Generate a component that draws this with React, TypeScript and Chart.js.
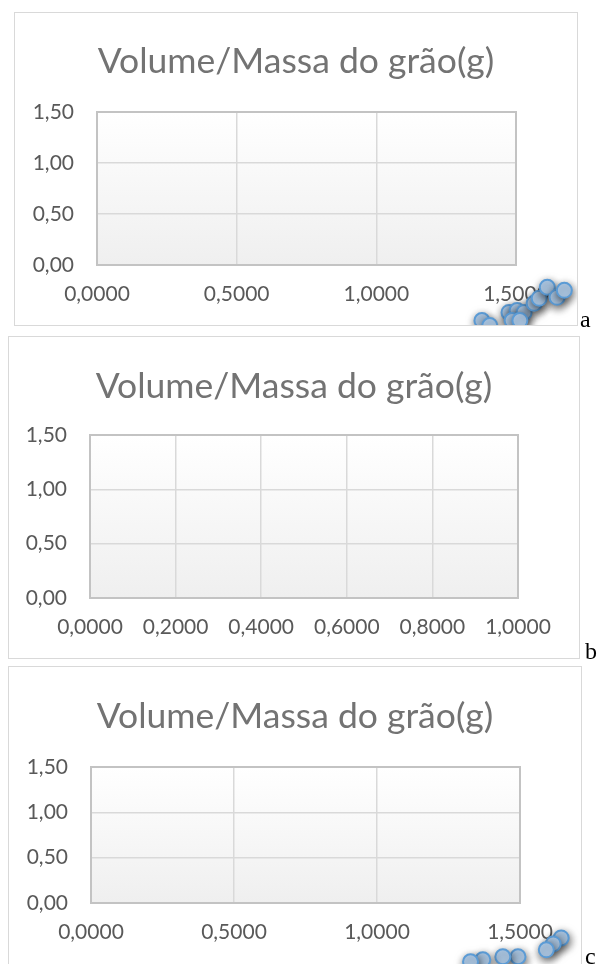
import React, { useEffect, useRef } from 'react';
import { Chart, registerables } from 'chart.js';

Chart.register(...registerables);

// ---------- data ----------
const TITLE = 'Volume/Massa do grão(g)';
const yTickValues = [0, 0.5, 1.0, 1.5];
const xTickValuesA = [0, 0.5, 1.0, 1.5];
const xTickValuesB = [0, 0.2, 0.4, 0.6, 0.8, 1.0];
const xTickValuesC = [0, 0.5, 1.0, 1.5];

// panel a: points rendered below the axis (outside the plot)
const xA = [1.378, 1.406, 1.475, 1.504, 1.529, 1.486, 1.514, 1.565, 1.583, 1.612, 1.647, 1.673];
const yA = [-0.545, -0.594, -0.465, -0.446, -0.465, -0.545, -0.545, -0.376, -0.327, -0.218, -0.317, -0.248];
// panel b: no visible points
const xB: number[] = [];
const yB: number[] = [];
// panel c
const xC = [1.644, 1.616, 1.592, 1.493, 1.44, 1.37, 1.327];
const yC = [-0.385, -0.451, -0.516, -0.593, -0.593, -0.626, -0.648];

// ---------- layout ----------
type Layout = {
  frame: { left: number; top: number; width: number; height: number };
  plot: { left: number; top: number; right: number; bottom: number };
  titleY: number;
  letter: string;
  letterPos: { left: number; top: number };
  bottomBorder: boolean;
};

const layouts: Layout[] = [
  {
    frame: { left: 14, top: 12, width: 564, height: 314 },
    plot: { left: 83, top: 100, right: 502, bottom: 253 },
    titleY: 50,
    letter: 'a',
    letterPos: { left: 580, top: 307 },
    bottomBorder: true,
  },
  {
    frame: { left: 8, top: 336, width: 572, height: 323 },
    plot: { left: 82, top: 99, right: 510, bottom: 262 },
    titleY: 51,
    letter: 'b',
    letterPos: { left: 585, top: 639 },
    bottomBorder: true,
  },
  {
    frame: { left: 8, top: 666, width: 574, height: 320 },
    plot: { left: 83, top: 101, right: 512, bottom: 237 },
    titleY: 51,
    letter: 'c',
    letterPos: { left: 585, top: 944 },
    bottomBorder: false,
  },
];

const FONT = 'Lato, "Open Sans", sans-serif';
const TICK_COLOR = '#595959';
const TITLE_COLOR = '#737373';

const fmt = (v: number, d: number) => v.toFixed(d).replace('.', ',');

function Panel({ layout, xTicks, xs, ys }: { layout: Layout; xTicks: number[]; xs: number[]; ys: number[] }) {
  const ref = useRef<HTMLCanvasElement | null>(null);
  useEffect(() => {
    if (!ref.current) return;
    const { frame, plot, titleY } = layout;
    const W = frame.width;
    const H = frame.height;
    let savedArea: any = null;
    const plugin = {
      id: 'decor',
      beforeDraw(chart: any) {
        const { ctx, chartArea: a } = chart;
        ctx.save();
        const g = ctx.createLinearGradient(0, a.top, 0, a.bottom);
        g.addColorStop(0, '#ffffff');
        g.addColorStop(1, '#efefef');
        ctx.fillStyle = g;
        ctx.fillRect(a.left, a.top, a.right - a.left, a.bottom - a.top);
        ctx.restore();
      },
      beforeDatasetsDraw(chart: any) {
        const { ctx, chartArea: a } = chart;
        ctx.save();
        ctx.strokeStyle = '#c3c3c3';
        ctx.lineWidth = 2;
        ctx.strokeRect(a.left, a.top, a.right - a.left, a.bottom - a.top);
        ctx.restore();
        // let points that fall outside the plot area still be drawn (as in the original)
        savedArea = chart.chartArea;
        chart.chartArea = { left: 0, top: 0, right: W, bottom: H, width: W, height: H };
        ctx.save();
        ctx.shadowColor = 'rgba(0,0,0,0.6)';
        ctx.shadowBlur = 8;
        ctx.shadowOffsetX = 1;
        ctx.shadowOffsetY = 3;
      },
      afterDatasetsDraw(chart: any) {
        chart.ctx.restore();
        if (savedArea) chart.chartArea = savedArea;
      },
      afterDraw(chart: any) {
        const ctx = chart.ctx;
        ctx.save();
        ctx.font = `35.5px ${FONT}`;
        ctx.fillStyle = TITLE_COLOR;
        ctx.textAlign = 'center';
        ctx.textBaseline = 'middle';
        ctx.fillText(TITLE, W / 2, titleY);
        ctx.restore();
      },
    };
    const chart = new Chart(ref.current, {
      type: 'scatter',
      data: {
        datasets: [
          {
            data: xs.map((x, i) => ({ x, y: ys[i] })),
            pointRadius: 7.5,
            pointBorderWidth: 2,
            pointBackgroundColor: '#b8d5f3',
            pointBorderColor: '#5b9bd5',
            clip: false as any,
          },
        ],
      },
      options: {
        animation: false,
        responsive: false,
        devicePixelRatio: 1,
        events: [],
        layout: { padding: { left: 0, top: plot.top, right: W - plot.right, bottom: 0 } },
        plugins: { legend: { display: false }, title: { display: false }, tooltip: { enabled: false } },
        scales: {
          x: {
            type: 'linear',
            min: xTicks[0],
            max: xTicks[xTicks.length - 1],
            afterBuildTicks: (s: any) => {
              s.ticks = xTicks.map((v) => ({ value: v }));
            },
            afterFit: (s: any) => {
              s.height = H - plot.bottom;
            },
            ticks: {
              autoSkip: false,
              maxRotation: 0,
              padding: 17,
              color: TICK_COLOR,
              font: { family: FONT, size: 21 },
              callback: (v: any) => fmt(Number(v), 4),
            },
            grid: { color: '#d9d9d9', lineWidth: 1.5, drawTicks: false },
            border: { display: false },
          },
          y: {
            type: 'linear',
            min: yTickValues[0],
            max: yTickValues[yTickValues.length - 1],
            afterBuildTicks: (s: any) => {
              s.ticks = yTickValues.map((v) => ({ value: v }));
            },
            afterFit: (s: any) => {
              s.width = plot.left;
            },
            ticks: {
              autoSkip: false,
              padding: 23,
              color: TICK_COLOR,
              font: { family: FONT, size: 21 },
              callback: (v: any) => fmt(Number(v), 2),
            },
            grid: { color: '#d9d9d9', lineWidth: 1.5, drawTicks: false },
            border: { display: false },
          },
        },
      },
      plugins: [plugin as any],
    });
    return () => chart.destroy();
  }, [layout, xTicks, xs, ys]);

  const { frame } = layout;
  return (
    <>
      <div style={{ position: 'absolute', left: frame.left, top: frame.top, width: frame.width, height: frame.height, background: '#fff' }}>
        <canvas ref={ref} width={frame.width} height={frame.height} style={{ display: 'block', width: frame.width, height: frame.height }} />
        <div
          style={{
            position: 'absolute',
            left: 0,
            top: 0,
            width: frame.width,
            height: frame.height,
            boxSizing: 'border-box',
            border: '1.5px solid #d9d9d9',
            borderBottom: layout.bottomBorder ? '1.5px solid #d9d9d9' : 'none',
            pointerEvents: 'none',
          }}
        />
      </div>
      <span
        style={{
          position: 'absolute',
          left: layout.letterPos.left,
          top: layout.letterPos.top,
          fontFamily: '"Liberation Serif", "DejaVu Serif", serif',
          fontSize: 24,
          lineHeight: '24px',
          color: '#000',
        }}
      >
        {layout.letter}
      </span>
    </>
  );
}

export default function App() {
  return (
    <div style={{ position: 'absolute', left: 0, top: 0, width: 598, height: 964, overflow: 'hidden', background: '#fff' }}>
      <Panel layout={layouts[0]} xTicks={xTickValuesA} xs={xA} ys={yA} />
      <Panel layout={layouts[1]} xTicks={xTickValuesB} xs={xB} ys={yB} />
      <Panel layout={layouts[2]} xTicks={xTickValuesC} xs={xC} ys={yC} />
    </div>
  );
}
